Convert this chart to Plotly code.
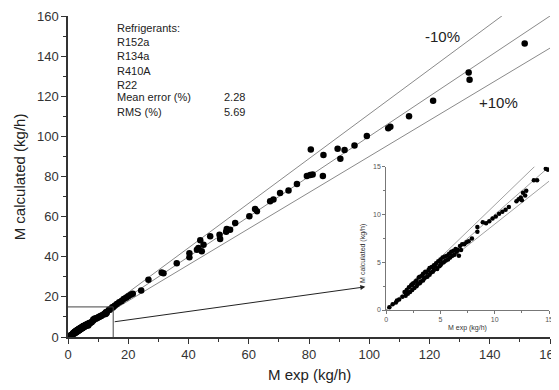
import plotly.graph_objects as go

# ---- data ----
x_main = [15.5, 16.2, 17.0, 17.8, 18.5, 19.3, 20.0, 20.8, 21.5, 24.3, 26.7, 31.1, 31.7, 36.1,
          40.3, 40.3, 42.8, 43.3, 43.9, 44.4, 45.0, 47.2, 50.3, 50.5, 52.5, 52.7, 53.8, 55.5,
          60.2, 62.1, 62.7, 67.1, 68.2, 70.4, 73.2, 76.0, 79.3, 80.4, 81.2, 80.6, 84.6, 84.8,
          89.5, 90.4, 91.8, 95.1, 99.2, 106.3, 107.0, 113.2, 121.2, 133.0, 133.3, 151.6]
y_main = [15.6, 16.5, 17.3, 18.0, 19.0, 19.6, 20.3, 21.0, 21.6, 23.2, 28.5, 32.2, 31.8, 36.8,
          41.8, 39.8, 43.5, 44.3, 48.2, 42.7, 46.0, 50.2, 51.0, 48.8, 52.5, 53.8, 53.5, 56.8,
          60.2, 63.8, 62.7, 67.7, 68.5, 71.8, 73.0, 76.3, 80.2, 80.7, 81.0, 93.5, 80.2, 90.7,
          93.8, 88.8, 93.2, 95.5, 100.2, 104.0, 104.8, 110.0, 117.7, 131.8, 128.2, 146.3]

x_small = [0.3, 0.6, 0.9, 1.0, 1.2, 1.5, 1.7, 1.8, 1.9, 2.0, 2.1, 2.2, 2.3, 2.4, 2.4, 2.5, 2.6,
           2.7, 2.8, 2.8, 2.9, 3.0, 3.1, 3.1, 3.2, 3.3, 3.4, 3.4, 3.5, 3.6, 3.6, 3.7, 3.8, 3.9,
           4.0, 4.0, 4.1, 4.2, 4.3, 4.4, 4.4, 4.5, 4.6, 4.7, 4.8, 4.9, 5.0, 5.0, 5.1, 5.2, 5.3,
           5.4, 5.5, 5.6, 5.7, 5.8, 5.9, 6.0, 6.1, 6.2, 6.3, 6.4, 6.5, 6.6, 6.7, 6.8, 6.9, 7.0,
           7.2, 7.4, 7.6, 7.9, 8.4, 8.4, 8.9, 9.2, 9.5, 9.8, 10.1, 10.4, 10.7, 11.0, 11.3, 12.0,
           12.2, 12.4, 12.5, 12.6, 12.8, 12.9, 13.6, 13.9, 14.7, 14.9]
y_small = [0.3, 0.6, 0.8, 1.0, 1.1, 1.4, 1.9, 1.5, 2.1, 1.7, 2.4, 1.9, 2.6, 2.1, 2.7, 2.8, 2.3,
           3.0, 2.5, 3.1, 2.7, 3.4, 2.8, 3.5, 3.0, 3.6, 3.1, 3.8, 3.3, 4.0, 3.4, 3.9, 3.5, 4.2,
           3.7, 4.4, 3.9, 4.5, 4.0, 4.7, 4.2, 4.6, 4.9, 4.3, 5.1, 4.6, 5.3, 4.7, 4.9, 5.5, 5.0,
           5.6, 5.2, 5.7, 5.3, 5.9, 5.5, 6.1, 5.7, 6.2, 5.8, 6.4, 6.1, 6.3, 5.7, 6.7, 6.3, 6.9,
           6.9, 7.1, 7.2, 7.5, 8.7, 8.2, 9.2, 9.1, 9.3, 9.6, 9.8, 10.1, 10.3, 10.5, 10.8, 11.4,
           11.6, 11.8, 11.5, 12.3, 12.0, 12.5, 13.6, 13.6, 14.8, 14.7]

legend_lines = ["Refrigerants:", "R152a", "R134a", "R410A", "R22", "Mean error (%)", "RMS (%)"]
stat_values = ["2.28", "5.69"]
main_ticks = [0, 20, 40, 60, 80, 100, 120, 140, 160]
inset_ticks = [0, 5, 10, 15]

FONT = "Liberation Sans, Arial, sans-serif"
LINE_C = "#8a8a8a"

fig = go.Figure()

# reference lines main
for xs, ys in [([0, 160], [0, 160]), ([0, 160], [0, 160 / 0.9]), ([0, 160], [0, 144])]:
    fig.add_trace(go.Scatter(x=xs, y=ys, mode="lines", line=dict(color=LINE_C, width=1),
                             hoverinfo="skip", showlegend=False, xaxis="x", yaxis="y"))
# main points
fig.add_trace(go.Scatter(x=x_small + x_main, y=y_small + y_main, mode="markers",
                         marker=dict(color="black", size=6.5), showlegend=False,
                         xaxis="x", yaxis="y"))

# inset reference lines
for xs, ys in [([0, 15], [0, 15]), ([0, 15], [0, 15 * 1.1]), ([0, 15], [0, 13.5])]:
    fig.add_trace(go.Scatter(x=xs, y=ys, mode="lines", line=dict(color=LINE_C, width=0.8),
                             hoverinfo="skip", showlegend=False, xaxis="x2", yaxis="y2"))
fig.add_trace(go.Scatter(x=x_small, y=y_small, mode="markers",
                         marker=dict(color="black", size=4.5), showlegend=False,
                         xaxis="x2", yaxis="y2"))

# zoom box
fig.add_shape(type="line", x0=0, y0=15, x1=15, y1=15, xref="x", yref="y",
              line=dict(color="#444", width=1))
fig.add_shape(type="line", x0=15, y0=15, x1=15, y1=0, xref="x", yref="y",
              line=dict(color="#444", width=1))
fig.add_annotation(x=98.7, y=25, ax=15, ay=7.5, xref="x", yref="y", axref="x", ayref="y",
                   showarrow=True, arrowhead=2, arrowsize=1, arrowwidth=1, arrowcolor="#222",
                   text="")

# legend-like text
ys_leg = [154, 147, 140, 132.5, 125.5, 119.5, 112]
for t, yy in zip(legend_lines, ys_leg):
    fig.add_annotation(x=15.6, y=yy, xref="x", yref="y", text=t, showarrow=False,
                       xanchor="left", yanchor="middle",
                       font=dict(family=FONT, size=11, color="#222"))
for t, yy in zip(stat_values, ys_leg[5:]):
    fig.add_annotation(x=51, y=yy, xref="x", yref="y", text=t, showarrow=False,
                       xanchor="left", yanchor="middle",
                       font=dict(family=FONT, size=11, color="#222"))

fig.add_annotation(x=124.3, y=150, xref="x", yref="y", text="-10%", showarrow=False,
                   font=dict(family=FONT, size=15, color="#222"))
fig.add_annotation(x=143, y=117, xref="x", yref="y", text="+10%", showarrow=False,
                   font=dict(family=FONT, size=15, color="#222"))

# axis titles (as text placed in paper coordinates)
fig.add_annotation(x=0.5, y=-0.118, xref="paper", yref="paper", text="M exp (kg/h)",
                   showarrow=False, xanchor="center", yanchor="middle",
                   font=dict(family=FONT, size=15, color="#222"))
fig.add_annotation(x=-0.1, y=0.5, xref="paper", yref="paper", text="M calculated (kg/h)",
                   showarrow=False, xanchor="center", yanchor="middle", textangle=-90,
                   font=dict(family=FONT, size=15, color="#222"))
fig.add_annotation(x=0.829, y=0.028, xref="paper", yref="paper", text="M exp (kg/h)",
                   showarrow=False, xanchor="center", yanchor="middle",
                   font=dict(family=FONT, size=7, color="#333"))
fig.add_annotation(x=0.612, y=0.262, xref="paper", yref="paper", text="M calculated (kg/h)",
                   showarrow=False, xanchor="center", yanchor="middle", textangle=-90,
                   font=dict(family=FONT, size=7, color="#333"))

axis_main = dict(showgrid=False, zeroline=False, showline=True, linecolor="#333", linewidth=1.5,
                 ticks="outside", ticklen=5, tickwidth=1.2, tickcolor="#333",
                 tickfont=dict(family=FONT, size=13, color="#333"),
                 minor=dict(ticks="outside", ticklen=3, tickcolor="#333", dtick=10, tick0=0),
                 range=[0, 160], tickvals=main_ticks, fixedrange=True, automargin=False)

axis_inset = dict(showgrid=False, zeroline=False, showline=True, linecolor="#777", linewidth=0.8,
                  ticks="outside", ticklen=3, tickwidth=0.8, tickcolor="#777",
                  tickfont=dict(family=FONT, size=7, color="#555"),
                  minor=dict(ticks="outside", ticklen=2, tickcolor="#777", dtick=2.5, tick0=0),
                  range=[0, 15], tickvals=inset_ticks, fixedrange=True, automargin=False)

# page body has an 8px margin, so the figure is laid out 8px up/left of the target
fig.update_layout(
    width=559, height=390,
    margin=dict(l=60, r=17, t=8, b=61),
    paper_bgcolor="white", plot_bgcolor="white",
    showlegend=False,
    xaxis=dict(axis_main, domain=[0, 1], anchor="y"),
    yaxis=dict(axis_main, domain=[0, 1], anchor="x"),
    xaxis2=dict(axis_inset, domain=[0.66, 0.998], anchor="y2"),
    yaxis2=dict(axis_inset, domain=[0.084, 0.53], anchor="x2"),
)

fig.write_html("out.html")
